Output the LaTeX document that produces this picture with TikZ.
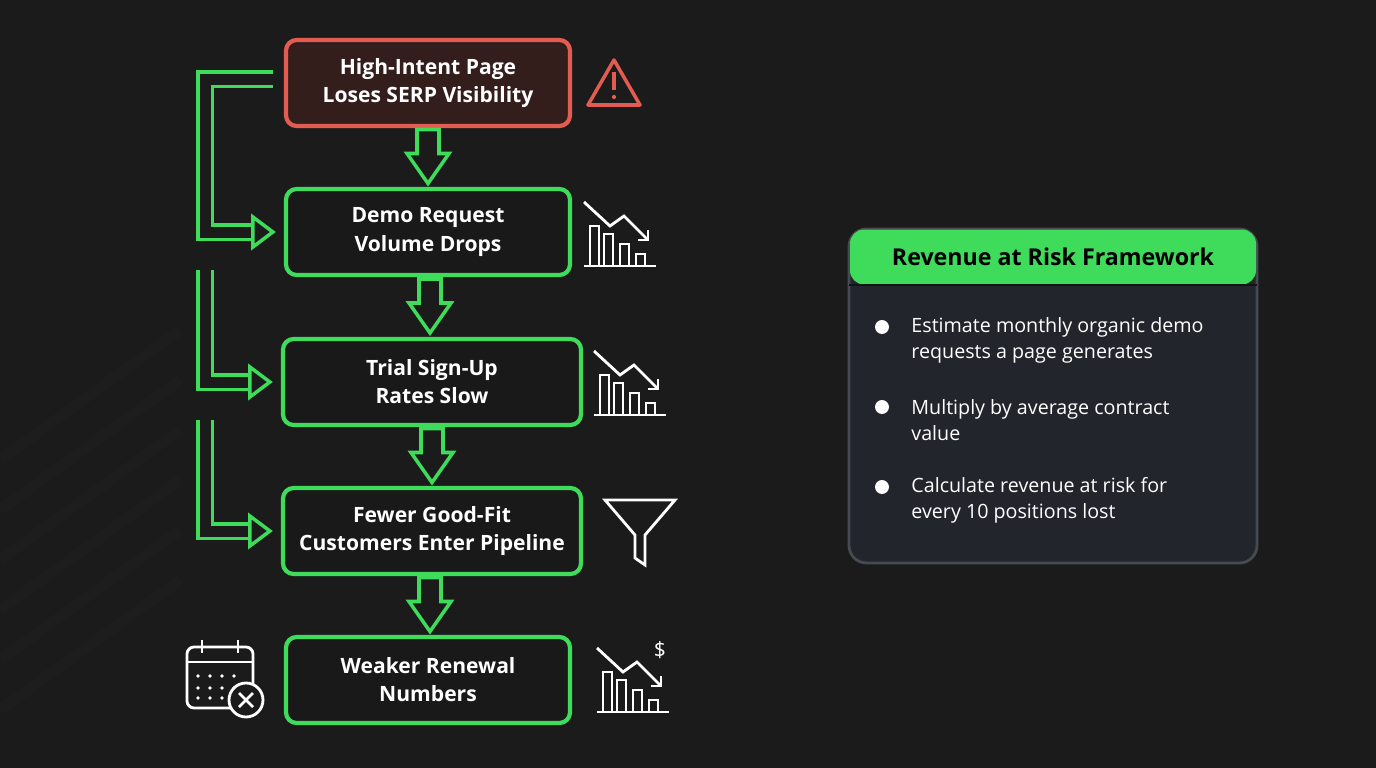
\documentclass[tikz,border=0pt]{standalone}
\usepackage{fontspec}
\setmainfont{Open Sans}
\usetikzlibrary{calc,positioning}
\definecolor{fondo}{RGB}{27, 27, 27}
\definecolor{verde}{RGB}{62, 220, 90}
\definecolor{rojo}{RGB}{226, 92, 82}
\definecolor{rojoFondo}{RGB}{52, 30, 28}
\definecolor{panel}{RGB}{34, 37, 43}
\definecolor{panelBorde}{RGB}{70, 74, 82}
\tikzstyle{paso}  =[draw=verde, line width=1.2pt, rounded corners=3pt,
                    fill=black!90, text=white, align=center,
                    font=\fontsize{6}{8}\selectfont\bfseries,
                    minimum height=0.86cm]
\tikzstyle{icono} =[draw=white, line width=0.8pt]
\tikzstyle{bala}  =[circle, fill=white, inner sep=1.4pt]
\tikzstyle{texto} =[text=white!92, anchor=west, align=left,
                    font=\fontsize{5.6}{7.4}\selectfont]
\tikzset{
  bajada/.pic={
    \draw [verde, line width=1pt, line join=miter]
      (-0.11,0.28) -- (0.11,0.28) -- (0.11,0.04) -- (0.21,0.04)
      -- (0,-0.26) -- (-0.21,0.04) -- (-0.11,0.04) -- cycle;
  },
  punta/.pic={
    \draw [verde, line width=1pt, fill=fondo]
      (-0.2,0.15) -- (0,0) -- (-0.2,-0.15) -- cycle;
  },
  grafico/.pic={
    \draw [icono] (-0.36,-0.32) -- (0.36,-0.32);
    \foreach \x/\h in {-0.3/0.4,-0.16/0.32,0/0.22,0.16/0.12}
      \draw [icono, line width=0.7pt] (\x,-0.32) rectangle ++(0.09,\h);
    \draw [icono] (-0.36,0.32) -- (-0.1,0.08) -- (0.04,0.18) -- (0.28,-0.06);
    \draw [icono] (0.18,-0.06) -- (0.28,-0.06) -- (0.28,0.04);
  }
}

\begin{document}
\begin{tikzpicture}
    \fill [fondo] (0,0) rectangle (13.76,-7.68);
    \useasboundingbox (0,0) rectangle (13.76,-7.68);
    \foreach \i in {0,...,5}
        \draw [white, opacity=0.012, line width=3pt] (0,-4.6-0.5*\i) -- (1.8,-3.3-0.5*\i);

    % pasos
    \node (b1) [paso, draw=rojo, fill=rojoFondo, minimum width=2.84cm] at (4.28,-0.83) {High-Intent Page\\Loses SERP Visibility};
    \node (b2) [paso, minimum width=2.84cm] at (4.28,-2.32) {Demo Request\\Volume Drops};
    \node (b3) [paso, minimum width=2.98cm] at (4.32,-3.82) {Trial Sign-Up\\Rates Slow};
    \node (b4) [paso, minimum width=2.98cm] at (4.32,-5.31) {Fewer Good-Fit\\Customers Enter Pipeline};
    \node (b5) [paso, minimum width=2.84cm] at (4.28,-6.80) {Weaker Renewal\\Numbers};

    \foreach \i/\j in {b1/b2,b2/b3,b3/b4,b4/b5}
        \pic at ($(\i.south)!0.5!(\j.north)$) {bajada};

    % flechas laterales
    \coordinate (s1) at ($(b1.west)+(-0.11,0.04)$);
    \coordinate (s2) at (2.05,-2.70);
    \coordinate (s3) at (2.05,-4.20);
    \foreach \a/\b in {s1/b2,s2/b3,s3/b4} {
        \draw [verde, line width=1pt, double=fondo, double distance=0.11cm]
            (\a) -| (2.05,0 |- \b.west) -- ($(\b.west)+(-0.31,0)$);
        \pic at ($(\b.west)+(-0.11,0)$) {punta};
    }

    % iconos
    \draw [rojo, line width=1pt, line join=round] (6.14,-0.6) -- (6.40,-1.05) -- (5.88,-1.05) -- cycle;
    \draw [rojo, line width=1pt] (6.14,-0.72) -- (6.14,-0.90);
    \fill [rojo] (6.14,-0.97) circle (0.6pt);
    \pic at (6.20,-2.34) {grafico};
    \pic at (6.30,-3.83) {grafico};
    \pic at (6.33,-6.80) {grafico};
    \node [text=white, font=\fontsize{6}{7}\selectfont] at (6.60,-6.50) {\$};
    \draw [icono] (6.05,-5.0) -- (6.75,-5.0) -- (6.45,-5.35) -- (6.45,-5.65) -- (6.35,-5.58) -- (6.35,-5.35) -- cycle;
    \draw [icono, rounded corners=2pt] (1.87,-6.47) rectangle (2.53,-7.08);
    \draw [icono] (1.87,-6.62) -- (2.53,-6.62);
    \draw [icono] (2.02,-6.40) -- (2.02,-6.53) (2.38,-6.40) -- (2.38,-6.53);
    \foreach \x in {1.98,2.10,2.22,2.34}
        \foreach \y in {-6.76,-6.88,-6.98}
            \fill [white] (\x,\y) circle (0.5pt);
    \draw [icono, fill=fondo] (2.46,-7.00) circle (0.17);
    \draw [icono] (2.39,-6.93) -- (2.53,-7.07) (2.39,-7.07) -- (2.53,-6.93);

    % panel
    \node (panel) [draw=panelBorde, fill=panel, line width=0.8pt, rounded corners=5pt,
        minimum width=4.08cm, minimum height=3.34cm] at (10.53,-3.96) {};
    \node (titulo) [fill=verde, rounded corners=4pt, minimum width=4.06cm, minimum height=0.55cm,
        font=\fontsize{6.6}{8}\selectfont\bfseries, text=black] at (10.53,-2.57) {Revenue at Risk Framework};
    \draw [panel!50!black, line width=0.8pt] (8.49,-2.85) -- (12.57,-2.85);
    \node (p1) [bala] at (8.82,-3.27) {};
    \node (p2) [bala] at (8.82,-4.07) {};
    \node (p3) [bala] at (8.82,-4.87) {};
    \node [texto] at (8.99,-3.40) {Estimate monthly organic demo\\requests a page generates};
    \node [texto] at (8.99,-4.20) {Multiply by average contract\\value};
    \node [texto] at (8.99,-5.00) {Calculate revenue at risk for\\every 10 positions lost};
\end{tikzpicture}
\end{document}
